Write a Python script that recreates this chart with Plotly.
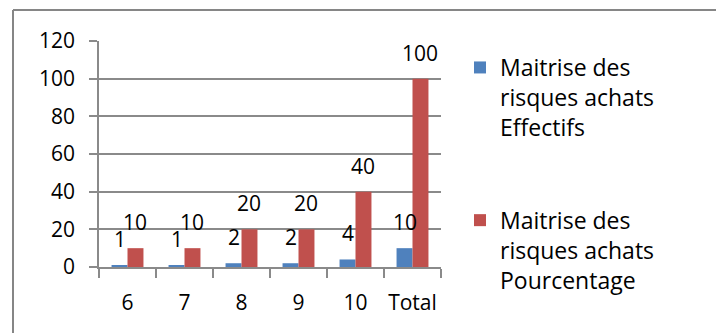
import plotly.graph_objects as go

# Categories and series values
categories = ["6", "7", "8", "9", "10", "Total"]
effectifs = [1, 1, 2, 2, 4, 10]
pourcentage = [10, 10, 20, 20, 40, 100]
series_names = [
    "Maitrise des<br>risques achats<br>Effectifs",
    "Maitrise des<br>risques achats<br>Pourcentage",
]
y_ticks = [0, 20, 40, 60, 80, 100, 120]

BLUE = "#4F81BD"
RED = "#C0504D"
GRID = "#8a8a8a"
FONT = "Open Sans"
FS = 21
LEGEND_FS = 23

W, H = 716, 333
L, R, T, B = 99, 275, 41, 66
PW, PH = W - L - R, H - T - B
BARGAP = 0.44


def px_x(x):
    return (x - L) / PW


def px_y(y):
    return (H - B - y) / PH


fig = go.Figure()
fig.add_trace(go.Bar(x=categories, y=effectifs, name=series_names[0],
                     marker=dict(color=BLUE, line=dict(width=0)),
                     legendgroup="a"))
fig.add_trace(go.Bar(x=categories, y=pourcentage, name=series_names[1],
                     marker=dict(color=RED, line=dict(width=0)),
                     legendgroup="b"))

# Data labels above each bar
offset = (1 - BARGAP) / 4
annotations = []
for i, cat in enumerate(categories):
    for val, dx in ((effectifs[i], -offset), (pourcentage[i], offset)):
        annotations.append(dict(
            x=i + dx, y=val, xref="x", yref="y", text=str(val),
            showarrow=False, yanchor="bottom", xanchor="center", yshift=10,
            font=dict(family=FONT, size=FS, color="black"),
        ))

# Chart frame (left and top edges)
frame = [
    dict(type="line", xref="paper", yref="paper", x0=px_x(13), x1=px_x(13),
         y0=px_y(10), y1=px_y(H + 10), line=dict(color="#868686", width=2)),
    dict(type="line", xref="paper", yref="paper", x0=px_x(13), x1=px_x(W + 10),
         y0=px_y(10), y1=px_y(10), line=dict(color="#868686", width=2)),
]

fig.update_layout(
    width=W, height=H,
    margin=dict(l=L, r=R, t=T, b=B, pad=0, autoexpand=False),
    paper_bgcolor="white", plot_bgcolor="white",
    barmode="group", bargap=BARGAP, bargroupgap=0,
    font=dict(family=FONT, size=FS, color="black"),
    showlegend=True,
    legend=dict(x=px_x(460), y=px_y(46), xanchor="left", yanchor="top",
                font=dict(family=FONT, size=LEGEND_FS, color="black"),
                tracegroupgap=60, valign="top", bgcolor="rgba(0,0,0,0)",
                traceorder="grouped", maxheight=H),
    annotations=annotations,
    shapes=frame,
)
fig.update_xaxes(
    type="category", showline=True, linecolor=GRID, linewidth=1.5,
    ticks="outside", tickson="boundaries", ticklen=9, tickcolor=GRID,
    tickwidth=1.5, showgrid=False, ticklabelstandoff=16, tickangle=0,
    tickfont=dict(family=FONT, size=FS, color="black"),
)
fig.update_yaxes(
    range=[0, 120], tickvals=y_ticks, showline=True, linecolor=GRID,
    linewidth=1.5, ticks="outside", ticklen=8, tickcolor=GRID, tickwidth=1.5,
    showgrid=True, gridcolor=GRID, gridwidth=1.5, zeroline=False,
    ticklabelstandoff=10,
    tickfont=dict(family=FONT, size=FS, color="black"),
)

fig.write_html("out.html")
